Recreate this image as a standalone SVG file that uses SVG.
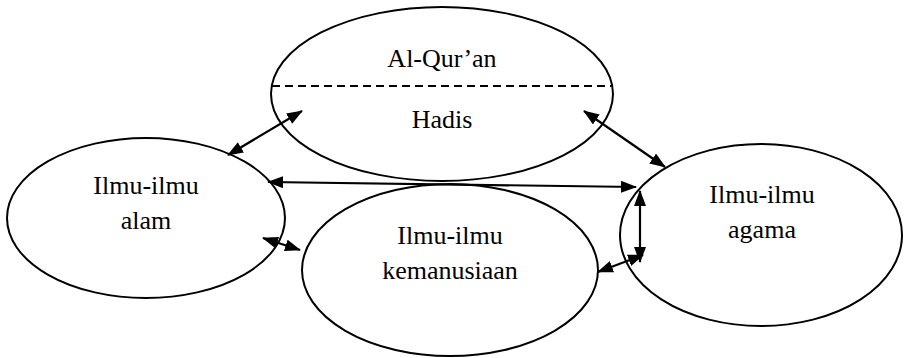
<svg xmlns="http://www.w3.org/2000/svg" width="907" height="358" viewBox="0 0 907 358">
  <style>
    .node ellipse { fill: #fff; stroke: #000; stroke-width: 2; }
    .node text { font-family: 'Times New Roman', 'Liberation Serif', 'DejaVu Serif', Times, serif; font-size: 26px; fill: #000; text-anchor: middle; }
    .divider { stroke: #000; stroke-width: 2; stroke-dasharray: 8 5; fill: none; }
    #connectors line { stroke: #000; stroke-width: 2.2; marker-start: url(#head); marker-end: url(#head); }
  </style>
  <defs>
    <marker id="head" viewBox="0 0 16 12" refX="15" refY="6" markerWidth="16" markerHeight="12" markerUnits="userSpaceOnUse" orient="auto-start-reverse">
      <path d="M0,0 L16,6 L0,12 Z" fill="#000"/>
    </marker>
  </defs>

  <g id="node-sumber" class="node">
    <ellipse cx="442" cy="94" rx="171" ry="87"/>
    <line class="divider" x1="272" y1="86" x2="612" y2="86"/>
    <text x="442" y="67">Al-Qur’an</text>
    <text x="442" y="128">Hadis</text>
  </g>

  <g id="node-alam" class="node">
    <ellipse cx="146" cy="218" rx="139" ry="80"/>
    <text x="146" y="194">Ilmu-ilmu</text>
    <text x="146" y="229">alam</text>
  </g>

  <g id="node-kemanusiaan" class="node">
    <ellipse cx="450" cy="270" rx="148" ry="86"/>
    <text x="450" y="244">Ilmu-ilmu</text>
    <text x="450" y="279">kemanusiaan</text>
  </g>

  <g id="node-agama" class="node">
    <ellipse cx="761" cy="235" rx="141" ry="91"/>
    <text x="762" y="203">Ilmu-ilmu</text>
    <text x="762" y="238">agama</text>
  </g>

  <g id="connectors">
    <line x1="228" y1="155" x2="302" y2="111"/>
    <line x1="584" y1="111" x2="665" y2="167"/>
    <line x1="268" y1="182" x2="636" y2="187"/>
    <line x1="640" y1="191" x2="640" y2="262"/>
    <line x1="598" y1="272" x2="643" y2="255"/>
    <line x1="263" y1="238" x2="300" y2="250"/>
  </g>
</svg>
